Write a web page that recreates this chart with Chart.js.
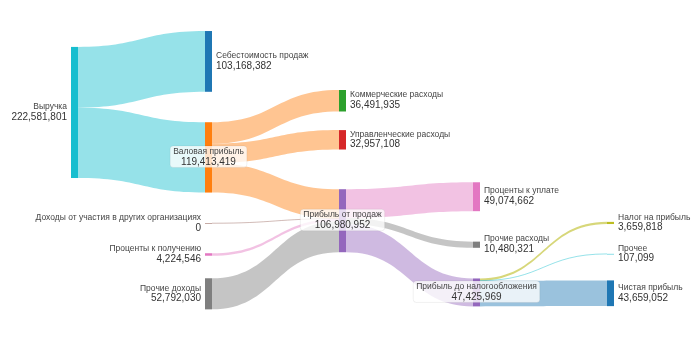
<!DOCTYPE html>
<html>
<head>
<meta charset="utf-8">
<script src="https://cdn.jsdelivr.net/npm/chart.js@4.4.0/dist/chart.umd.min.js"></script>
<style>
  html, body { margin: 0; padding: 0; background: #fff; }
  #wrap { width: 700px; height: 350px; }
</style>
</head>
<body>
<div id="wrap"><canvas id="sankey" width="700" height="350"></canvas></div>
<script>
// ---- DATA ----
const nodeLabels = [
  "Выручка", "Себестоимость продаж", "Валовая прибыль",
  "Коммерческие расходы", "Управленческие расходы", "Прибыль от продаж",
  "Доходы от участия в других организациях", "Проценты к получению", "Прочие доходы",
  "Проценты к уплате", "Прочие расходы", "Прибыль до налогообложения",
  "Налог на прибыль", "Прочее", "Чистая прибыль"
];
const linkSource = [0, 0, 2, 2, 2, 6, 7, 8, 5, 5, 5, 11, 11, 11];
const linkTarget = [1, 2, 3, 4, 5, 5, 5, 5, 9, 10, 11, 12, 13, 14];
const linkValue = [
  103168382, 119413419, 36491935, 32957108, 49964376,
  0, 4224546, 52792030,
  49074662, 10480321, 47425969,
  3659818, 107099, 43659052
];

// ---- LAYOUT / STYLE (fixed arrangement, like plotly node.x / node.y) ----
const nodeX = [0, 1, 1, 2, 2, 2, 1, 1, 1, 3, 3, 3, 4, 4, 4];
const nodeY = [0.292, 0.109, 0.453, 0.250, 0.390, 0.680, 0.689, 0.801, 0.942,
               0.594, 0.766, 0.937, 0.688, 0.799, 0.940];
const nodeColors = [
  "#17becf", "#1f77b4", "#ff7f0e", "#2ca02c", "#d62728", "#9467bd",
  "#8c564b", "#e377c2", "#7f7f7f", "#e377c2", "#7f7f7f", "#9467bd",
  "#bcbd22", "#17becf", "#1f77b4"
];
const linkColors = [
  "rgba(23,190,207,0.45)", "rgba(23,190,207,0.45)",
  "rgba(255,127,14,0.45)", "rgba(255,127,14,0.45)", "rgba(255,127,14,0.45)",
  "rgba(140,86,75,0.4)", "rgba(227,119,194,0.45)", "rgba(127,127,127,0.45)",
  "rgba(227,119,194,0.45)", "rgba(127,127,127,0.45)", "rgba(148,103,189,0.45)",
  "rgba(188,189,34,0.6)", "rgba(23,190,207,0.45)", "rgba(31,119,180,0.45)"
];
const NODE_W = 7;
const Y_MAX = 473.7e6;
const FONT = '"Liberation Sans", Arial, sans-serif';

function fmt(v) {
  return Math.round(v).toLocaleString("en-US");
}

// Draws links, nodes and labels from the x/y scales
const sankeyPlugin = {
  id: "sankeyDraw",
  afterDatasetsDraw(chart) {
    const ctx = chart.ctx;
    const xs = chart.scales.x, ys = chart.scales.y;
    const n = nodeLabels.length;

    let inSum = new Array(n).fill(0), outSum = new Array(n).fill(0);
    let inCount = new Array(n).fill(0), outCount = new Array(n).fill(0);
    linkValue.forEach((v, i) => {
      outSum[linkSource[i]] += v; outCount[linkSource[i]]++;
      inSum[linkTarget[i]] += v; inCount[linkTarget[i]]++;
    });
    const nodeVal = inSum.map((v, i) => Math.max(v, outSum[i]));
    const nodeTop = nodeVal.map((v, i) => nodeY[i] * Y_MAX - v / 2);

    // stack link ends on each node
    let sy = new Array(linkValue.length), ty = new Array(linkValue.length);
    for (let k = 0; k < n; k++) {
      let outs = linkValue.map((_, i) => i).filter(i => linkSource[i] === k)
        .sort((a, b) => nodeY[linkTarget[a]] - nodeY[linkTarget[b]]);
      let off = nodeTop[k];
      outs.forEach(i => { sy[i] = off; off += linkValue[i]; });
      let ins = linkValue.map((_, i) => i).filter(i => linkTarget[i] === k)
        .sort((a, b) => nodeY[linkSource[a]] - nodeY[linkSource[b]]);
      off = nodeTop[k];
      ins.forEach(i => { ty[i] = off; off += linkValue[i]; });
    }

    ctx.save();
    // links
    linkValue.forEach((v, i) => {
      const x0 = xs.getPixelForValue(nodeX[linkSource[i]]) + NODE_W;
      const x1 = xs.getPixelForValue(nodeX[linkTarget[i]]);
      const xm = (x0 + x1) / 2;
      const y0t = ys.getPixelForValue(sy[i]), y0b = ys.getPixelForValue(sy[i] + v);
      const y1t = ys.getPixelForValue(ty[i]), y1b = ys.getPixelForValue(ty[i] + v);
      if (y0b - y0t < 1) {
        const a = (y0t + y0b) / 2, b = (y1t + y1b) / 2;
        ctx.beginPath();
        ctx.moveTo(x0, a);
        ctx.bezierCurveTo(xm, a, xm, b, x1, b);
        ctx.strokeStyle = linkColors[i];
        ctx.lineWidth = 1;
        ctx.stroke();
        return;
      }
      ctx.beginPath();
      ctx.moveTo(x0, y0t);
      ctx.bezierCurveTo(xm, y0t, xm, y1t, x1, y1t);
      ctx.lineTo(x1, y1b);
      ctx.bezierCurveTo(xm, y1b, xm, y0b, x0, y0b);
      ctx.closePath();
      ctx.fillStyle = linkColors[i];
      ctx.fill();
    });

    // nodes
    for (let k = 0; k < n; k++) {
      const x = xs.getPixelForValue(nodeX[k]);
      const y0 = ys.getPixelForValue(nodeTop[k]);
      const y1 = ys.getPixelForValue(nodeTop[k] + nodeVal[k]);
      ctx.fillStyle = nodeColors[k];
      ctx.fillRect(x, y0, NODE_W, Math.max(y1 - y0, 0.5));
    }

    // labels
    ctx.textBaseline = "middle";
    for (let k = 0; k < n; k++) {
      const x = xs.getPixelForValue(nodeX[k]);
      const cy = ys.getPixelForValue(nodeY[k] * Y_MAX);
      const value = fmt(nodeVal[k]);
      let tx, align;
      if (inCount[k] === 0) { tx = x - 4; align = "right"; }
      else if (outCount[k] === 0) { tx = x + NODE_W + 4; align = "left"; }
      else {
        // middle nodes: centred label on a light box
        tx = x + NODE_W / 2; align = "center";
        ctx.font = "8.5px " + FONT;
        let w1 = ctx.measureText(nodeLabels[k]).width;
        ctx.font = "10px " + FONT;
        let w2 = ctx.measureText(value).width;
        const w = Math.max(w1, w2) + 6;
        ctx.beginPath();
        ctx.roundRect(tx - w / 2, cy - 11.5, w, 21.5, 3);
        ctx.fillStyle = "rgba(255,255,255,0.78)";
        ctx.fill();
        ctx.strokeStyle = "rgba(0,0,0,0.06)";
        ctx.lineWidth = 1;
        ctx.stroke();
      }
      ctx.textAlign = align;
      ctx.fillStyle = "#444";
      ctx.font = "8.5px " + FONT;
      ctx.fillText(nodeLabels[k], tx, cy - 5.6);
      ctx.fillStyle = "#333";
      ctx.font = "10px " + FONT;
      ctx.fillText(value, tx, cy + 4.6);
    }
    ctx.restore();
  }
};

new Chart(document.getElementById("sankey"), {
  type: "scatter",
  data: {
    datasets: [{
      data: nodeX.map((c, i) => ({ x: c, y: nodeY[i] * Y_MAX })),
      pointRadius: 0,
      pointHoverRadius: 0
    }]
  },
  options: {
    responsive: false,
    animation: false,
    devicePixelRatio: 1,
    layout: { padding: { left: 71, right: 93, top: 31, bottom: 40 } },
    plugins: { legend: { display: false }, tooltip: { enabled: false } },
    scales: {
      x: { type: "linear", min: 0, max: 4, display: false },
      y: { type: "linear", min: 0, max: Y_MAX, reverse: true, display: false }
    }
  },
  plugins: [sankeyPlugin]
});
</script>
</body>
</html>
